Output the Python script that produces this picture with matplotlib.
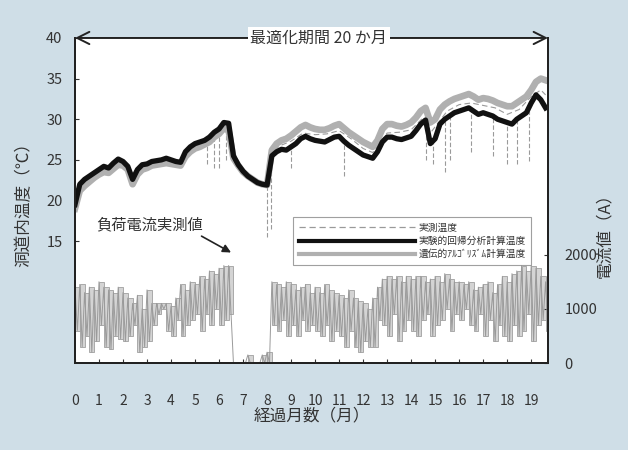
import numpy as np
import matplotlib
matplotlib.use("Agg")
import matplotlib.pyplot as plt
from matplotlib.lines import Line2D

plt.rcParams['font.family'] = ['Noto Sans CJK JP', 'DejaVu Sans']

# ---- data ----
months = np.round(np.arange(0, 19.61, 0.2), 1)

regression_temp = [
    19.5, 22.0, 22.6, 23.0, 23.4, 23.8, 24.2, 24.0, 24.6, 25.1,
    24.8, 24.2, 22.6, 23.8, 24.4, 24.5, 24.8, 24.9, 25.0, 25.2,
    25.0, 24.8, 24.7, 26.0, 26.6, 27.0, 27.2, 27.4, 27.8, 28.4,
    28.8, 29.6, 29.5, 25.5, 24.4, 23.6, 23.0, 22.6, 22.2, 22.0,
    21.9, 25.5, 26.0, 26.3, 26.2, 26.6, 27.0, 27.6, 27.9, 27.6,
    27.4, 27.3, 27.2, 27.5, 27.8, 27.9, 27.3, 26.8, 26.4, 26.0,
    25.6, 25.4, 25.2, 26.0, 27.2, 27.8, 27.8, 27.6, 27.5, 27.7,
    27.9, 28.6, 29.4, 29.9, 27.0, 27.6, 29.4, 30.0, 30.4, 30.8,
    31.0, 31.2, 31.4, 31.0, 30.6, 30.8, 30.6, 30.4, 30.0, 29.8,
    29.6, 29.4, 30.0, 30.4, 30.8, 32.0, 33.0, 32.4, 31.4]

ga_temp = [
    19.0, 21.2, 21.8, 22.3, 22.8, 23.2, 23.5, 23.4, 23.9, 24.4,
    24.3, 23.8, 22.0, 23.2, 23.8, 24.0, 24.3, 24.4, 24.5, 24.6,
    24.5, 24.4, 24.3, 25.4, 26.0, 26.4, 26.6, 26.9, 27.2, 27.8,
    28.2, 28.9, 28.6, 25.2, 24.3, 23.5, 23.0, 22.6, 22.2, 22.0,
    21.9, 26.2, 27.0, 27.4, 27.6, 28.0, 28.5, 29.0, 29.3, 29.0,
    28.8, 28.7, 28.7, 28.9, 29.2, 29.4, 28.9, 28.4, 28.0, 27.6,
    27.2, 26.9, 26.6, 27.4, 28.8, 29.4, 29.4, 29.2, 29.1, 29.3,
    29.6, 30.2, 31.0, 31.4, 29.6, 30.0, 31.2, 31.8, 32.2, 32.5,
    32.7, 32.9, 33.1, 32.8, 32.4, 32.6, 32.5, 32.3, 32.0, 31.8,
    31.6, 31.6, 32.0, 32.4, 32.8, 33.6, 34.6, 35.0, 34.8]

# measured temperature (coarse) and its downward spikes
meas_months = [0.0, 0.5, 1.0, 1.5, 2.0, 2.4, 3.0, 3.5, 4.0, 4.5, 5.0, 5.5, 6.0, 6.4,
               6.6, 7.0, 7.5, 8.0, 8.2, 8.5, 9.0, 9.5, 10.0, 10.5, 11.0, 11.5,
               12.0, 12.4, 13.0, 13.5, 14.0, 14.5, 14.8, 15.5, 16.0, 16.5, 17.0,
               17.5, 18.0, 18.5, 19.0, 19.4, 19.6]
meas_temp = [19.2, 22.5, 23.5, 24.3, 24.6, 22.3, 24.2, 24.6, 24.8, 25.0, 26.7, 27.2,
             28.5, 29.2, 25.3, 23.5, 22.4, 21.9, 25.8, 26.7, 27.3, 28.3, 28.1, 28.2,
             28.6, 27.6, 26.4, 25.9, 28.3, 28.4, 28.7, 30.2, 28.3, 31.0, 31.8, 32.0,
             31.7, 31.4, 30.6, 31.2, 32.8, 33.6, 33.0]
spike_months = [5.5, 5.8, 6.0, 6.3, 8.0, 8.15, 9.0, 11.2, 14.6, 14.9, 15.4, 15.6,
                16.5, 17.4, 18.0, 18.4, 18.9]
spike_low = [24.5, 24.0, 24.0, 25.0, 15.5, 16.5, 24.0, 23.0, 25.0, 24.5, 23.5, 25.0,
             26.0, 25.5, 24.5, 24.5, 24.8]
spike_high = [27.3, 27.8, 28.5, 29.3, 22.0, 24.5, 26.5, 27.2, 29.5, 27.5, 30.0, 30.4,
              31.2, 30.5, 29.8, 30.0, 31.0]

current_high = [
    1400, 1450, 1300, 1400, 1350, 1500, 1400, 1350, 1300, 1400,
    1300, 1200, 1100, 1250, 1000, 1350, 1100, 1100, 1100, 1100,
    1050, 1200, 1450, 1350, 1500, 1450, 1600, 1550, 1700, 1650,
    1750, 1800, 1800, 0, 0, 0, 150, 0, 0, 150,
    200, 1500, 1450, 1400, 1500, 1450, 1350, 1400, 1450, 1300,
    1400, 1300, 1450, 1350, 1300, 1250, 1200, 1350, 1200, 1150,
    1100, 1000, 1200, 1400, 1550, 1600, 1550, 1600, 1500, 1600,
    1550, 1600, 1600, 1500, 1550, 1600, 1500, 1650, 1550, 1500,
    1500, 1450, 1500, 1350, 1400, 1450, 1500, 1300, 1450, 1600,
    1500, 1650, 1700, 1800, 1700, 1800, 1750, 1600, 1500]
current_low = [
    600, 300, 500, 200, 400, 700, 300, 250, 500, 450,
    400, 500, 700, 200, 300, 400, 700, 900, 1000, 600,
    500, 800, 500, 700, 800, 900, 600, 900, 700, 1000,
    700, 800, 900, 0, 0, 0, 0, 0, 0, 0,
    0, 700, 600, 800, 500, 700, 500, 800, 600, 700,
    600, 500, 700, 400, 600, 500, 300, 600, 300, 200,
    400, 300, 300, 800, 700, 500, 900, 400, 600, 800,
    600, 500, 800, 900, 500, 700, 800, 1000, 600, 900,
    800, 1000, 700, 600, 900, 500, 800, 400, 700, 500,
    400, 700, 500, 600, 900, 400, 700, 800, 600]

x_ticks = list(range(0, 20))
temp_ticks = [15, 20, 25, 30, 35, 40]
current_ticks = [0, 1000, 2000]

# ---- figure ----
BG = '#cfdee7'
TXT = '#333333'
fig = plt.figure(figsize=(6.28, 4.5), dpi=100, facecolor=BG)
ax = fig.add_axes([0.1194, 0.1933, 0.7532, 0.7223])
ax.set_facecolor('white')
ax2 = ax.twinx()

ax.set_xlim(0, 19.7)
ax.set_ylim(0, 40)
ax2.set_ylim(0, 6000)

# current (right axis): blocks between daily low and high, plus fluctuation line
heights = np.array(current_high) - np.array(current_low)
ax2.bar(months, heights, bottom=current_low, width=0.2, align='edge',
        color='#d4d4d4', edgecolor='#a0a0a0', linewidth=0.6, zorder=1)
zig_x = np.ravel(np.column_stack([months, months + 0.1]))
zig_y = np.ravel(np.column_stack([current_high, current_low]))
ax2.plot(zig_x, zig_y, color='#9a9a9a', lw=0.7, zorder=2)

# temperatures (left axis)
ax.plot(meas_months, meas_temp, color='#9a9a9a', lw=0.8, ls=(0, (5, 3)), zorder=2)
ax.vlines(spike_months, spike_low, spike_high, color='#9a9a9a', lw=0.8,
          linestyles=(0, (4, 2)), zorder=2)
ax.plot(months, ga_temp, color='#b0b0b0', lw=4.8, zorder=3)
ax.plot(months, regression_temp, color='#111111', lw=3.8, zorder=4)

# axes style
for a in (ax, ax2):
    for s in a.spines.values():
        s.set_linewidth(1.4)
        s.set_color('#222222')
    a.spines['top'].set_visible(False)
ax.set_xticks(x_ticks)
ax.set_yticks(temp_ticks)
ax2.set_yticks(current_ticks)
ax.tick_params(axis='x', direction='in', length=3, pad=22, labelsize=10, colors=TXT)
ax.tick_params(axis='y', direction='in', length=3, pad=9, labelsize=10.5, colors=TXT)
ax2.tick_params(axis='y', direction='in', length=3, pad=12, labelsize=10.5, colors=TXT)
ax.set_xlabel('経過月数（月）', fontsize=12, color=TXT, labelpad=0)
ax.set_ylabel('洞道内温度（℃）', fontsize=12, color=TXT, labelpad=10)
fig.text(0.963, 0.485, '電流値（A）', rotation=90, fontsize=12, color=TXT,
         ha='center', va='center')

# top double arrow with title text
ax.annotate('', xy=(0, 40), xytext=(19.7, 40), xycoords='data',
            arrowprops=dict(arrowstyle='<->', color='#222222', lw=1.4,
                            mutation_scale=22, shrinkA=0, shrinkB=0),
            annotation_clip=False, zorder=6)
ax.text(10.15, 40, '最適化期間 20 か月', fontsize=11.5, color=TXT, ha='center',
        va='center', zorder=7,
        bbox=dict(facecolor='white', edgecolor='none', pad=2))

# annotation of current
ax.annotate('負荷電流実測値', xy=(6.5, 13.6), xytext=(0.9, 17.0),
            fontsize=11, color=TXT, va='center',
            arrowprops=dict(arrowstyle='-|>', color='#222222', lw=1.2,
                            mutation_scale=12, shrinkA=0, shrinkB=0,
                            relpos=(0.85, 0.3)),
            zorder=6)

# legend
handles = [Line2D([], [], color='#9a9a9a', lw=0.9, ls=(0, (5, 3))),
           Line2D([], [], color='#111111', lw=3.0),
           Line2D([], [], color='#b0b0b0', lw=3.0)]
labels = ['実測温度', '実験的回帰分析計算温度', '遺伝的ｱﾙｺﾞﾘｽﾞﾑ計算温度']
leg = ax2.legend(handles, labels, loc='upper right', bbox_to_anchor=(0.975, 0.465),
                 fontsize=7, handlelength=12, handletextpad=0.3, labelspacing=0.35,
                 frameon=True, fancybox=False, borderpad=0.6)
leg.get_frame().set_edgecolor('#888888')
leg.get_frame().set_linewidth(0.8)
leg.set_zorder(10)
for t in leg.get_texts():
    t.set_color(TXT)

fig.savefig('out.png', dpi=100, facecolor=BG)
